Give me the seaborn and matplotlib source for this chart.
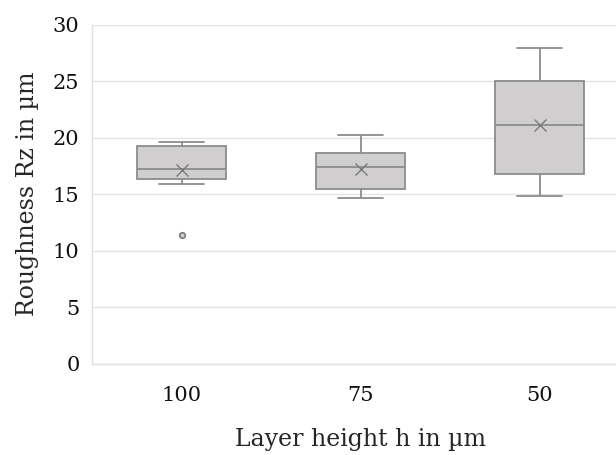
import pandas as pd
import matplotlib.pyplot as plt
import seaborn as sns

# samples per layer height (read so that box, whiskers, mean and outlier match the chart)
h100 = [11.4, 15.9, 16.35, 16.8, 17.2, 18.6, 19.3, 19.5, 19.65]
h75 = [14.65, 15.1, 15.47, 16.2, 17.45, 18.0, 18.66, 19.7, 20.26]
h50 = [14.88, 15.8, 16.8, 18.9, 21.14, 23.4, 25.04, 26.0, 27.94]
labels = ['100', '75', '50']

df = pd.DataFrame({
    'Layer height h in µm': [labels[0]] * len(h100) + [labels[1]] * len(h75) + [labels[2]] * len(h50),
    'Roughness Rz in µm': h100 + h75 + h50,
})

sns.set_style('white')
plt.rcParams['font.family'] = ['DejaVu Serif']

fig = plt.figure(figsize=(6.16, 4.55), dpi=100)
ax = fig.add_axes([92 / 616, 91.5 / 455, 537 / 616, 338.5 / 455])

line_c = '#8c8c8c'
sns.boxplot(data=df, x='Layer height h in µm', y='Roughness Rz in µm', order=labels,
            width=0.5, color='#d0cecf', linewidth=1.3, showmeans=True, whis=1.5,
            boxprops=dict(facecolor='#d0cecf', edgecolor=line_c),
            whiskerprops=dict(color=line_c), capprops=dict(color=line_c),
            medianprops=dict(color=line_c),
            meanprops=dict(marker='x', markeredgecolor='#7a7a7a', markersize=9, markeredgewidth=1.0),
            flierprops=dict(marker='o', markersize=4, markerfacecolor='#d0cecf',
                            markeredgecolor='#7a7a7a', markeredgewidth=1.2),
            ax=ax)

ax.set_ylim(0, 30)
ax.set_xlim(-0.5, 2.5)
ax.set_yticks(range(0, 31, 5))
ax.yaxis.grid(True, color='#e3e3e3', linewidth=1)
ax.set_axisbelow(True)
for s in ['top', 'right']:
    ax.spines[s].set_visible(False)
for s in ['left', 'bottom']:
    ax.spines[s].set_color('#e0e0e0')
    ax.spines[s].set_linewidth(1)
ax.tick_params(axis='both', length=0, labelsize=15, colors='#111111', pad=16)
ax.tick_params(axis='y', pad=9)
ax.set_xlabel('Layer height h in µm', fontsize=17, labelpad=17)
ax.set_ylabel('Roughness Rz in µm', fontsize=17, labelpad=10)

fig.savefig('out.png', dpi=100)
